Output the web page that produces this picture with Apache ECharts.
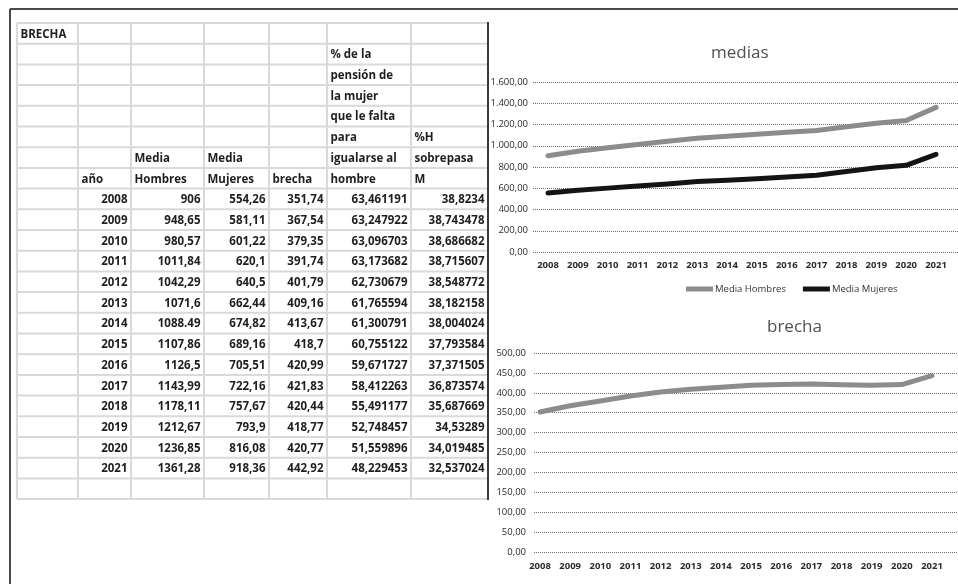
<!DOCTYPE html>
<html>
<head>
<meta charset="utf-8">
<script src="https://cdn.jsdelivr.net/npm/echarts@6/dist/echarts.min.js"></script>
<style>
html,body{margin:0;padding:0;background:#fff;}
#chart{width:958px;height:584px;}
</style>
</head>
<body>
<div id="chart"></div>
<script>
// ---------- data ----------
const years = ['2008','2009','2010','2011','2012','2013','2014','2015','2016','2017','2018','2019','2020','2021'];
const mediaHombres = [906, 948.65, 980.57, 1011.84, 1042.29, 1071.6, 1088.49, 1107.86, 1126.5, 1143.99, 1178.11, 1212.67, 1236.85, 1361.28];
const mediaMujeres = [554.26, 581.11, 601.22, 620.1, 640.5, 662.44, 674.82, 689.16, 705.51, 722.16, 757.67, 793.9, 816.08, 918.36];
const brecha = [351.74, 367.54, 379.35, 391.74, 401.79, 409.16, 413.67, 418.7, 420.99, 421.83, 420.44, 418.77, 420.77, 442.92];
const pctPension = [63.461191, 63.247922, 63.096703, 63.173682, 62.730679, 61.765594, 61.300791, 60.755122, 59.671727, 58.412263, 55.491177, 52.748457, 51.559896, 48.229453];
const pctSobrepasa = [38.8234, 38.743478, 38.686682, 38.715607, 38.548772, 38.182158, 38.004024, 37.793584, 37.371505, 36.873574, 35.687669, 34.53289, 34.019485, 32.537024];
// cells entered as text with a dot in the sheet
const dotTextHombresYears = ['2014'];
const seriesNames = ['Media Hombres', 'Media Mujeres'];
const titleMedias = 'medias';
const titleBrecha = 'brecha';
const tableTitle = 'BRECHA';
// header rows (rows 1..7), per column index
const headerRows = [
  ['', '', '', '', '', '% de la', ''],
  ['', '', '', '', '', 'pensión de', ''],
  ['', '', '', '', '', 'la mujer', ''],
  ['', '', '', '', '', 'que le falta', ''],
  ['', '', '', '', '', 'para', '%H'],
  ['', '', 'Media', 'Media', '', 'igualarse al', 'sobrepasa'],
  ['', 'año', 'Hombres', 'Mujeres', 'brecha', 'hombre', 'M']
];

// ---------- layout ----------
const colX = [17, 78, 131, 204, 269, 327, 411, 488];
const tableTop = 23, rowH = 20.7, nRows = 23;
const pad = 3.5;
const cellFont = {fontFamily: '"Open Sans", sans-serif', fontSize: 11.5, fontWeight: 'bold', fill: '#1e1e1e'};

function fmtCell(v) { return String(v).replace('.', ','); }
function fmtAxis(v) {
  const parts = v.toFixed(2).split('.');
  const intPart = parts[0].replace(/\B(?=(\d{3})+(?!\d))/g, '.');
  return intPart + ',' + parts[1];
}

const graphics = [];
// outer frame
graphics.push({type:'line', shape:{x1:10, y1:9, x2:958, y2:9}, style:{stroke:'#4a4a4a', lineWidth:2}, z:10});
graphics.push({type:'line', shape:{x1:10, y1:9, x2:10, y2:584}, style:{stroke:'#4a4a4a', lineWidth:2}, z:10});
// table grid
const tableBottom = tableTop + rowH * nRows;
for (let r = 0; r <= nRows; r++) {
  const y = tableTop + r * rowH;
  graphics.push({type:'line', shape:{x1:colX[0], y1:y, x2:colX[colX.length-1], y2:y}, style:{stroke:'#d9d9d9', lineWidth:2}, z:1});
}
for (let c = 0; c < colX.length - 1; c++) {
  graphics.push({type:'line', shape:{x1:colX[c], y1:tableTop, x2:colX[c], y2:tableBottom}, style:{stroke:'#d9d9d9', lineWidth:2}, z:1});
}
graphics.push({type:'line', shape:{x1:488, y1:22, x2:488, y2:500}, style:{stroke:'#3a3a3a', lineWidth:2}, z:10});

function addText(row, col, text, alignRight) {
  if (!text) return;
  const y = tableTop + row * rowH + rowH / 2 + 1;
  const x = alignRight ? colX[col + 1] - pad : colX[col] + pad;
  graphics.push({type:'text', z:5, style:Object.assign({text:text, x:x, y:y, align: alignRight ? 'right' : 'left', verticalAlign:'middle'}, cellFont)});
}
addText(0, 0, tableTitle, false);
headerRows.forEach((row, i) => row.forEach((t, c) => addText(i + 1, c, t, false)));
years.forEach((yr, i) => {
  const r = 8 + i;
  addText(r, 1, yr, true);
  addText(r, 2, dotTextHombresYears.includes(yr) ? String(mediaHombres[i]) : fmtCell(mediaHombres[i]), true);
  addText(r, 3, fmtCell(mediaMujeres[i]), true);
  addText(r, 4, fmtCell(brecha[i]), true);
  addText(r, 5, fmtCell(pctPension[i]), true);
  addText(r, 6, fmtCell(pctSobrepasa[i]), true);
});

const axisLabelStyle = {fontFamily:'"Open Sans", sans-serif', fontSize:9.5, color:'#2a2a2a'};
const gridLineStyle = {color:'#6e6e6e', width:1, type:[1,1]};

const chart = echarts.init(document.getElementById('chart'), null, {renderer:'canvas'});
chart.setOption({
  animation: false,
  backgroundColor: '#ffffff',
  title: [
    {text: titleMedias, left: 711, top: 45, padding: 0, textStyle:{fontFamily:'"Open Sans", sans-serif', fontSize:17, fontWeight:'normal', color:'#505050'}},
    {text: titleBrecha, left: 767, top: 319, padding: 0, textStyle:{fontFamily:'"Open Sans", sans-serif', fontSize:17, fontWeight:'normal', color:'#505050'}}
  ],
  legend: {
    data: seriesNames,
    left: 686, top: 284,
    itemWidth: 27, itemHeight: 5, itemGap: 17,
    icon: 'rect',
    padding: 0,
    textStyle: {fontFamily:'"Open Sans", sans-serif', fontSize:9.5, color:'#333333', padding:[0,0,0,-3]}
  },
  grid: [
    {left: 533, right: 0, top: 82, height: 170},
    {left: 548, right: 22, top: 82, height: 170},
    {left: 534, right: 0, top: 353, height: 199},
    {left: 540, right: 26, top: 353, height: 199}
  ],
  xAxis: [
    {gridIndex:0, type:'category', data: years, show:false},
    {gridIndex:1, type:'category', data: years, boundaryGap:false,
      axisLine:{show:false}, axisTick:{show:false}, splitLine:{show:false},
      axisLabel:Object.assign({margin:8, fontWeight:'bold', interval:0}, axisLabelStyle)},
    {gridIndex:2, type:'category', data: years, show:false},
    {gridIndex:3, type:'category', data: years, boundaryGap:false,
      axisLine:{show:false}, axisTick:{show:false}, splitLine:{show:false},
      axisLabel:Object.assign({margin:9, fontWeight:'bold', interval:0}, axisLabelStyle)}
  ],
  yAxis: [
    {gridIndex:0, type:'value', min:0, max:1600, interval:200,
      axisLine:{show:false}, axisTick:{show:false},
      axisLabel:Object.assign({margin:5, formatter: fmtAxis}, axisLabelStyle),
      splitLine:{show:true, lineStyle:gridLineStyle}},
    {gridIndex:1, type:'value', min:0, max:1600, show:false, splitLine:{show:false}},
    {gridIndex:2, type:'value', min:0, max:500, interval:50,
      axisLine:{show:false}, axisTick:{show:false},
      axisLabel:Object.assign({margin:8, formatter: fmtAxis}, axisLabelStyle),
      splitLine:{show:true, lineStyle:gridLineStyle}},
    {gridIndex:3, type:'value', min:0, max:500, show:false, splitLine:{show:false}}
  ],
  series: [
    {name: seriesNames[0], type:'line', xAxisIndex:1, yAxisIndex:1, data: mediaHombres, symbol:'none',
      itemStyle:{color:'#8c8c8c'}, lineStyle:{color:'#8c8c8c', width:5, join:'round', cap:'round'}},
    {name: seriesNames[1], type:'line', xAxisIndex:1, yAxisIndex:1, data: mediaMujeres, symbol:'none',
      itemStyle:{color:'#141414'}, lineStyle:{color:'#141414', width:5, join:'round', cap:'round'}},
    {name: 'brecha', type:'line', xAxisIndex:3, yAxisIndex:3, data: brecha, symbol:'none',
      itemStyle:{color:'#8c8c8c'}, lineStyle:{color:'#8c8c8c', width:5, join:'round', cap:'round'}}
  ],
  graphic: graphics
});
</script>
</body>
</html>
